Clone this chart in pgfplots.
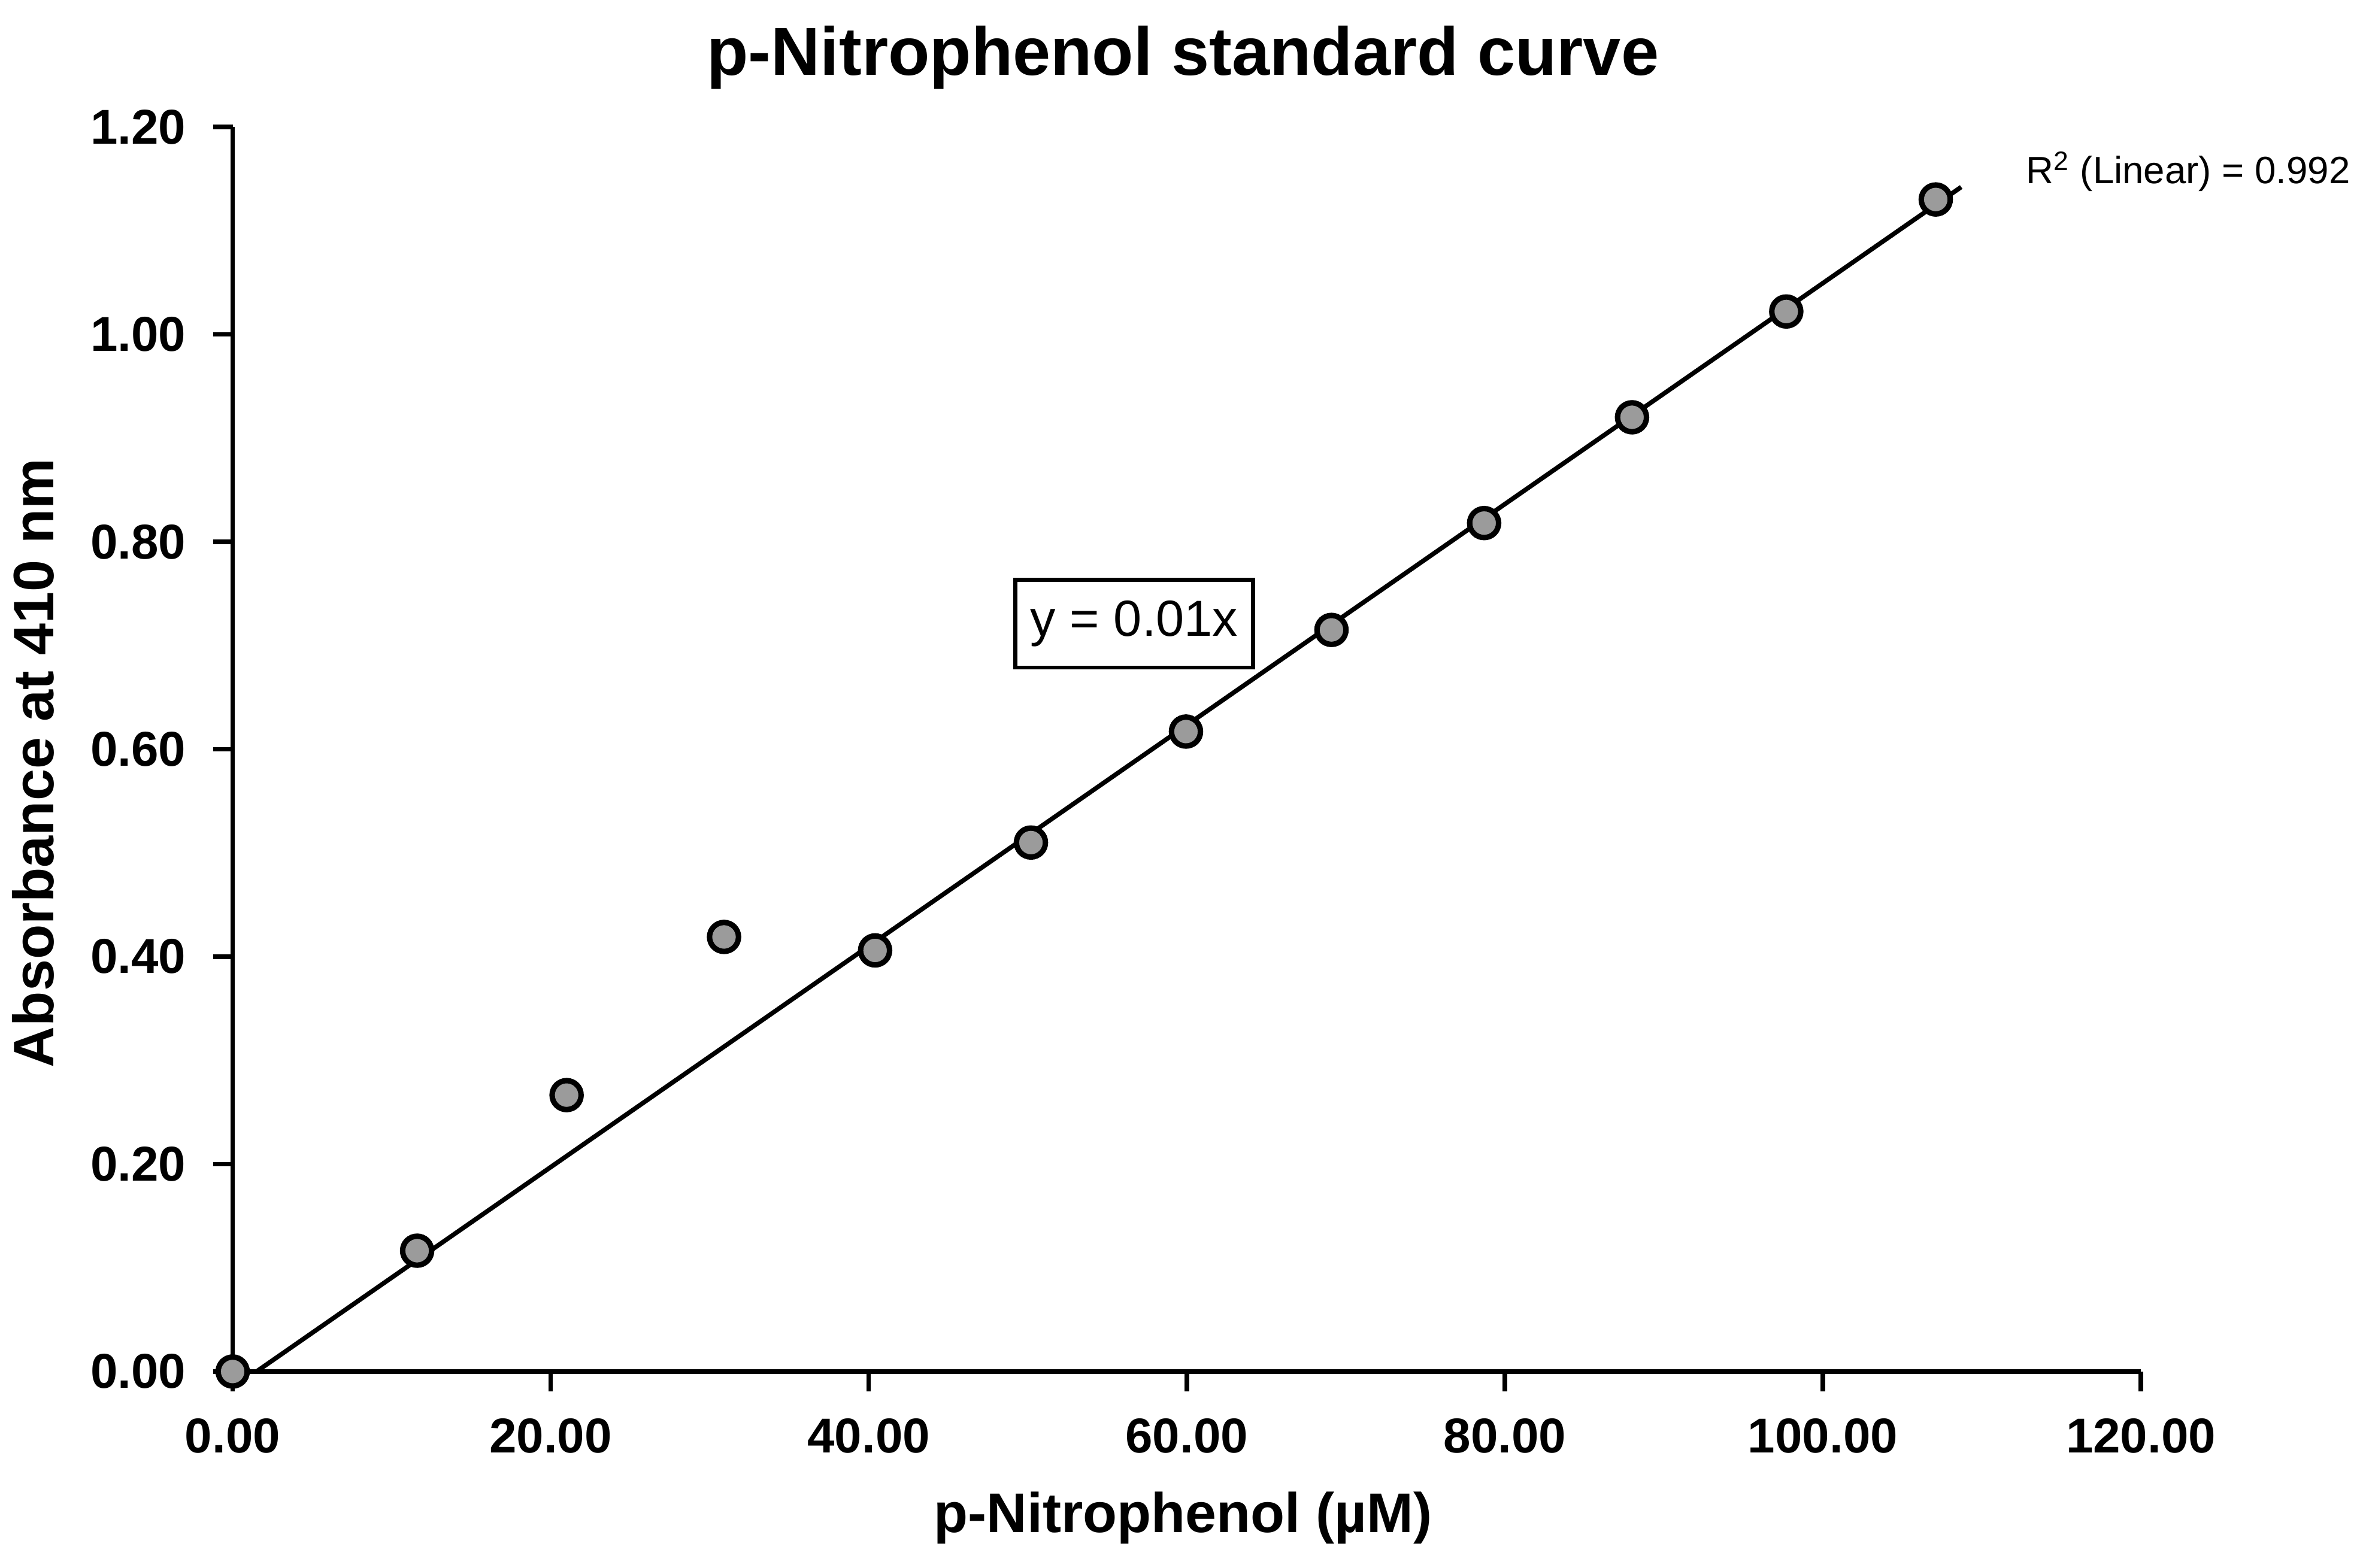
\documentclass[border=0pt]{standalone}
\usepackage{fontspec}
\setmainfont{Liberation Sans}
\usepackage{pgfplots}
\pgfplotsset{compat=1.18}
\definecolor{markgray}{RGB}{155,155,155}
\begin{document}
\begin{tikzpicture}
\path[use as bounding box] (0,0) rectangle (784pt,518.85pt);
\begin{axis}[
  at={(77pt,64.85pt)}, anchor=south west,
  scale only axis, width=631.5pt, height=412pt,
  xmin=0, xmax=120, ymin=0, ymax=1.2,
  axis x line*=bottom, axis y line*=left,
  axis line style={line width=1.5pt},
  tick style={line width=1.5pt, black},
  tick align=outside, major tick length=6.5pt,
  xtick={0,20,40,60,80,100,120},
  ytick={0,0.2,0.4,0.6,0.8,1.0,1.2},
  minor tick num=0,
  /pgf/number format/assume math mode=true,
  /pgf/number format/.cd, fixed, fixed zerofill, precision=2, 1000 sep={},
  /pgfplots/.cd,
  ticklabel style={font=\bfseries\fontsize{16.2}{19}\selectfont},
  xticklabel style={yshift=-5.5pt},
  yticklabel style={xshift=-5.5pt},
  title={p-Nitrophenol standard curve},
  title style={font=\bfseries\fontsize{22.5}{26}\selectfont, at={(rel axis cs:0.498,1.0413)}, anchor=center},
  xlabel={p-Nitrophenol (µM)},
  xlabel style={font=\bfseries\fontsize{18.5}{22}\selectfont, at={(rel axis cs:0.498,-0.1177)}, anchor=center},
  ylabel={Absorbance at 410 nm},
  ylabel style={font=\bfseries\fontsize{18.9}{22}\selectfont, at={(rel axis cs:-0.1045,0.489)}, anchor=center, rotate=0},
  clip=false,
  axis on top=true,
]
\addplot[black, line width=1.5pt, no marks] coordinates {(1.5,0) (108.7,1.142)};
\addplot[only marks, mark=*, mark size=4.8pt, mark options={fill=markgray, draw=black, line width=1.8pt}] coordinates {
(0,0) (11.6,0.1165) (21.0,0.2665) (30.9,0.419) (40.4,0.406) (50.2,0.510)
(59.95,0.617) (69.1,0.715) (78.7,0.818) (88.0,0.920) (97.7,1.022) (107.1,1.130)
};
\node[anchor=west, font=\fontsize{12.6}{15}\selectfont] at (axis cs:112.1,1.157) {R\textsuperscript{2} (Linear) = 0.992};
\node[draw=black, line width=1.3pt, fill=white, inner xsep=5pt, minimum height=29pt, font=\fontsize{16.8}{20}\selectfont] at (axis cs:56.7,0.721) {y = 0.01x};
\end{axis}
\end{tikzpicture}
\end{document}
